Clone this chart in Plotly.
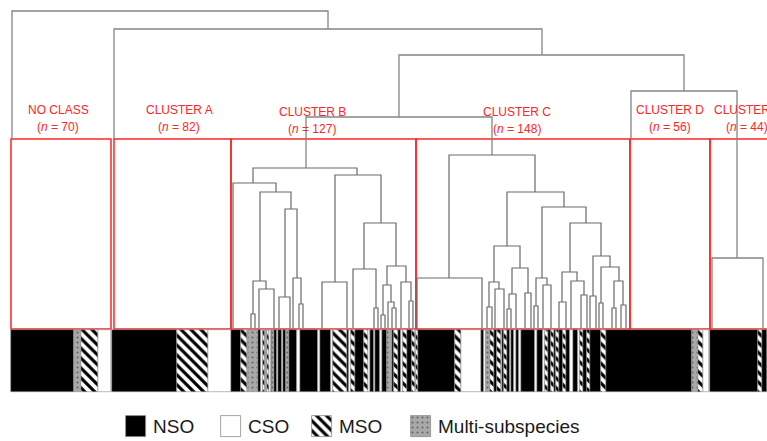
import plotly.graph_objects as go

# ---------------- DATA ----------------
# Clusters: label, size, leaf-position span
CLUSTER_NAMES = ["NO CLASS", "CLUSTER A", "CLUSTER B", "CLUSTER C", "CLUSTER D", "CLUSTER E"]
CLUSTER_N = [70, 82, 127, 148, 56, 44]
CLUSTER_X0 = [11, 114, 231, 416, 630, 710]
CLUSTER_X1 = [111, 231, 416, 630, 710, 775]
CLUSTER_CUT = 189          # height of the cut line (box tops)

# Dendrogram merges: (left pos, right pos, merge height, left child height, right child height)
MAIN_LINKS = [
    (12, 328, 317, 189, 299),
    (114, 542, 299, 189, 273),
    (399, 684, 273, 211, 237),
    (306, 492, 211, 160, 173),
    (631, 737, 237, 189, 70),
    (712, 763, 70, 0, 0),
]
B_LINKS = [
    (253, 357, 160, 145, 153),
    (233, 276, 145, 0, 136),
    (260, 291, 136, 47, 119),
    (253, 266, 47, 14, 39),
    (251, 255, 14, 0, 0),
    (259, 274, 39, 0, 0),
    (285, 297, 119, 31, 50),
    (279, 290, 31, 0, 0),
    (293, 301, 50, 0, 24),
    (299, 303, 24, 0, 0),
    (335, 381, 153, 46, 105),
    (322, 347, 46, 0, 0),
    (364, 396, 105, 59, 62),
    (353, 376, 59, 0, 20),
    (374, 378, 20, 0, 0),
    (387, 406, 62, 43, 46),
    (383, 391, 43, 13, 26),
    (381, 385, 13, 0, 0),
    (388, 394, 26, 0, 20),
    (392, 396, 20, 0, 0),
    (401, 411, 46, 0, 27),
    (409, 413, 27, 0, 0),
]
C_LINKS = [
    (449, 535, 173, 50, 136),
    (417, 482, 50, 0, 0),
    (507, 564, 136, 82, 121),
    (494, 520, 82, 46, 60),
    (489, 499, 46, 21, 39),
    (487, 492, 21, 0, 0),
    (495, 504, 39, 0, 0),
    (512, 528, 60, 34, 35),
    (509, 516, 34, 19, 0),
    (507, 511, 19, 0, 0),
    (525, 531, 35, 0, 0),
    (542, 586, 121, 50, 105),
    (536, 547, 50, 22, 43),
    (534, 538, 22, 0, 0),
    (543, 551, 43, 0, 0),
    (570, 601, 105, 56, 72),
    (562, 577, 56, 26, 47),
    (559, 566, 26, 0, 0),
    (571, 584, 47, 0, 33),
    (581, 587, 33, 0, 0),
    (593, 610, 72, 32, 61),
    (590, 596, 32, 0, 0),
    (601, 619, 61, 25, 47),
    (599, 603, 25, 0, 0),
    (614, 623, 47, 20, 23),
    (612, 616, 20, 0, 0),
    (621, 626, 23, 0, 0),
]

# Leaf strip: (start, end, class) N=NSO, C=CSO, M=MSO, S=Multi-subspecies
STRIP = [
    (11, 74, "N"), (74, 81, "S"), (81, 98, "M"), (98, 111, "C"),
    (112, 177, "N"), (177, 208, "M"), (208, 231, "C"),
    (231, 241, "N"), (241, 247, "M"), (247, 248, "C"), (248, 258, "S"),
    (258, 261, "N"), (261, 263, "C"), (263, 265, "M"), (265, 267, "S"),
    (267, 269, "M"), (269, 271, "C"), (271, 272, "N"), (272, 274, "S"),
    (274, 277, "N"), (277, 278, "C"), (278, 282, "N"), (282, 283, "C"),
    (283, 286, "N"), (286, 289, "S"), (289, 297, "N"), (297, 300, "C"),
    (300, 318, "N"), (318, 320, "C"), (320, 331, "N"), (331, 333, "C"),
    (333, 347, "M"), (347, 349, "N"), (349, 351, "C"), (351, 355, "M"),
    (355, 364, "N"), (364, 368, "M"), (368, 370, "C"), (370, 374, "N"),
    (374, 375, "C"), (375, 380, "N"), (380, 382, "C"), (382, 387, "N"),
    (387, 392, "S"), (392, 394, "N"), (394, 398, "M"), (398, 401, "N"),
    (401, 403, "C"), (403, 407, "M"), (407, 412, "N"), (412, 415, "M"),
    (415, 416, "C"), (416, 418, "M"), (418, 455, "N"), (455, 461, "M"),
    (461, 481, "C"), (481, 484, "N"), (484, 486, "C"), (486, 490, "S"),
    (490, 494, "M"), (494, 497, "N"), (497, 501, "M"), (501, 502, "C"),
    (502, 504, "N"), (504, 507, "M"), (507, 510, "N"), (510, 511, "C"),
    (511, 514, "N"), (514, 516, "C"), (516, 519, "N"), (519, 521, "C"),
    (521, 535, "N"), (535, 537, "C"), (537, 543, "N"), (543, 545, "C"),
    (545, 548, "M"), (548, 551, "N"), (551, 554, "M"), (554, 556, "N"),
    (556, 559, "M"), (559, 563, "N"), (563, 566, "M"), (566, 570, "N"),
    (570, 573, "C"), (573, 578, "N"), (578, 580, "C"), (580, 583, "M"),
    (583, 587, "N"), (587, 590, "M"), (590, 601, "N"), (601, 606, "M"),
    (606, 692, "N"), (692, 698, "S"), (698, 703, "M"), (703, 709, "C"),
    (710, 758, "N"), (758, 762, "M"), (762, 767, "N"),
]

CLASS_CODES = ["N", "C", "M", "S"]
CLASS_LABELS = ["NSO", "CSO", "MSO", "Multi-subspecies"]

# ---------------- STYLE ----------------
RED = "#ff2626"
FONT = "Liberation Sans, Arial, sans-serif"
STRIP_TOP, STRIP_BOTTOM = -2, -64
LEGEND_X = [126, 221, 312, 411]
LEGEND_TOP, LEGEND_BOTTOM = -88, -109
CLASS_STYLE = {
    "N": dict(color="black", pattern=dict(shape="")),
    "C": dict(color="white", pattern=dict(shape="")),
    "M": dict(color="white", pattern=dict(shape="\\", fgcolor="black", bgcolor="white",
                                         size=7, solidity=0.45, fillmode="replace")),
    "S": dict(color="#a9a9a9", pattern=dict(shape=".", fgcolor="#666666", bgcolor="#a9a9a9",
                                           size=5, solidity=0.15, fillmode="replace")),
}


def link_path(links):
    xs, ys = [], []
    for xl, xr, h, hl, hr in links:
        xs += [xl, xl, xr, xr, None]
        ys += [hl, h, h, hr, None]
    return xs, ys


fig = go.Figure()

# strip bars
for code, lab in zip(CLASS_CODES, CLASS_LABELS):
    segs = [s for s in STRIP if s[2] == code]
    st = CLASS_STYLE[code]
    fig.add_trace(go.Bar(
        x=[(a + b) / 2 for a, b, _ in segs],
        width=[b - a for a, b, _ in segs],
        y=[STRIP_TOP - STRIP_BOTTOM] * len(segs),
        base=STRIP_BOTTOM,
        marker=dict(color=st["color"], pattern=st["pattern"],
                    line=dict(color="#8c8c8c", width=0.6)),
        name=lab, showlegend=False, hoverinfo="skip",
    ))

# legend swatches
for code, lab, lx in zip(CLASS_CODES, CLASS_LABELS, LEGEND_X):
    st = CLASS_STYLE[code]
    fig.add_trace(go.Bar(
        x=[lx + 10], width=[20], y=[LEGEND_TOP - LEGEND_BOTTOM], base=LEGEND_BOTTOM,
        marker=dict(color=st["color"], pattern=st["pattern"],
                    line=dict(color="#8c8c8c", width=0.8)),
        showlegend=False, hoverinfo="skip",
    ))
    fig.add_annotation(x=lx + 25, y=(LEGEND_TOP + LEGEND_BOTTOM) / 2, text=lab,
                       showarrow=False, xanchor="left", yanchor="middle",
                       font=dict(family=FONT, size=19, color="#1a1a1a"))

# red cluster boxes
for name, n, x0, x1 in zip(CLUSTER_NAMES, CLUSTER_N, CLUSTER_X0, CLUSTER_X1):
    fig.add_shape(type="rect", x0=x0, x1=x1, y0=-1, y1=CLUSTER_CUT,
                  line=dict(color=RED, width=1.5), fillcolor="rgba(0,0,0,0)", layer="below")

# dendrogram lines
xs, ys = link_path(MAIN_LINKS)
fig.add_trace(go.Scatter(x=xs, y=ys, mode="lines", line=dict(color="#858585", width=1.3),
                         hoverinfo="skip", showlegend=False))
xs, ys = link_path(B_LINKS + C_LINKS)
fig.add_trace(go.Scatter(x=xs, y=ys, mode="lines", line=dict(color="#6a6a6a", width=1.2),
                         hoverinfo="skip", showlegend=False))

# cluster labels
LABEL_X = [58, 179, 312, 517, 670, 747]
LABEL_H = [218, 218, 216, 216, 218, 218]
for name, n, lx, lh in zip(CLUSTER_NAMES, CLUSTER_N, LABEL_X, LABEL_H):
    fig.add_annotation(x=lx, y=lh, text=name, showarrow=False, xanchor="center",
                       yanchor="middle", font=dict(family=FONT, size=12, color=RED))
    fig.add_annotation(x=lx, y=lh - 17, text=f"(<i>n</i> = {n})", showarrow=False,
                       xanchor="center", yanchor="middle",
                       font=dict(family=FONT, size=12, color=RED))

fig.update_layout(
    width=767, height=441,
    margin=dict(l=0, r=0, t=0, b=0),
    plot_bgcolor="white", paper_bgcolor="white",
    barmode="overlay", bargap=0,
    xaxis=dict(range=[0, 767], visible=False, fixedrange=True),
    yaxis=dict(range=[-113, 328], visible=False, fixedrange=True),
    hovermode=False,
)

fig.write_html(
    "out.html",
    config={"displayModeBar": False},
    post_script="document.body.style.margin='0px';document.body.style.overflow='hidden';",
)
